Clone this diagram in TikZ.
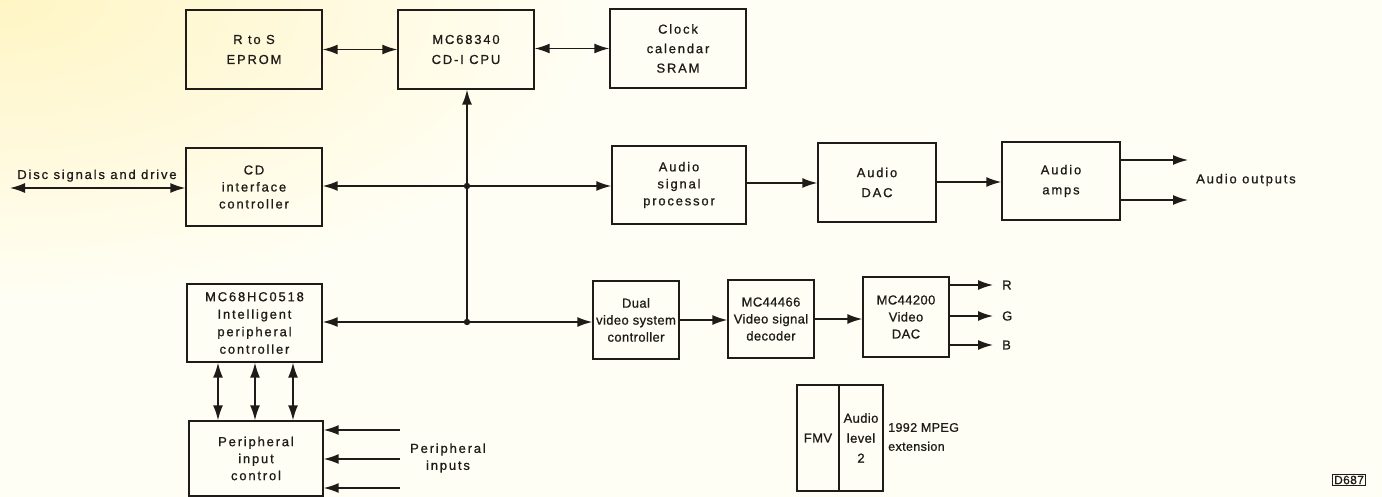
\documentclass[tikz,border=0pt]{standalone}
\usepackage{fontspec}
\setmainfont{Liberation Sans}[LetterSpace=14, FakeBold=0.8]
\newfontfamily\narrowfont{Liberation Sans}[LetterSpace=3, FakeBold=0.8]
\usetikzlibrary{arrows.meta}
\definecolor{bg}{HTML}{FFFEF4}
\definecolor{yel}{HTML}{FFF5C4}
\definecolor{ink}{HTML}{1E1B18}
\begin{document}
\begin{tikzpicture}[x=1pt,y=-1pt,
  box/.style={draw=ink, line width=1.4pt, align=center, inner sep=0pt, text=ink,
    font=\fontsize{13}{17}\selectfont},
  tallbox/.style={box, font=\fontsize{13}{20}\selectfont},
  narrowbox/.style={box, font=\narrowfont\fontsize{13}{17}\selectfont},
  conn/.style={draw=ink, line width=1.5pt},
  arr/.style={conn, -{Latex[length=15pt,width=10pt]}},
  darr/.style={conn, {Latex[length=15pt,width=10pt]}-{Latex[length=15pt,width=10pt]}},
  lbl/.style={font=\fontsize{13}{17}\selectfont, text=ink, inner sep=0pt},
  dot/.style={fill=ink}]
\useasboundingbox (0,0) rectangle (1382,497);
\begin{scope}
  \clip (0,0) rectangle (1382,497);
  \fill[bg] (0,0) rectangle (1382,497);
  \shade[inner color=yel, outer color=bg] (-600,-300) rectangle (600,300);
\end{scope}

% top row
\node[tallbox, minimum width=136pt, minimum height=79pt] (eprom) at (254,49.5) {R to S\\EPROM};
\node[tallbox, minimum width=136pt, minimum height=79pt] (cpu) at (466,49.5) {MC68340\\CD-I CPU};
\node[tallbox, minimum width=136pt, minimum height=79pt, font=\fontsize{13}{19.5}\selectfont] (clock) at (678,48.5) {Clock\\calendar\\SRAM};

% second row
\node[box, minimum width=136pt, minimum height=78pt] (cdi) at (254,187) {CD\\interface\\controller};
\node[box, minimum width=134pt, minimum height=78pt] (asp) at (679,185) {Audio\\signal\\processor};
\node[tallbox, minimum width=118pt, minimum height=79pt] (adac) at (877,182.5) {Audio\\DAC};
\node[tallbox, minimum width=118pt, minimum height=78pt] (amps) at (1061,181) {Audio\\amps};

% third row
\node[box, minimum width=135pt, minimum height=78pt, font=\fontsize{13}{17.5}\selectfont] (ipc) at (254.5,323) {MC68HC0518\\Intelligent\\peripheral\\controller};
\node[narrowbox, minimum width=86pt, minimum height=78pt] (dvsc) at (636,320) {Dual\\video system\\controller};
\node[narrowbox, minimum width=86pt, minimum height=78pt] (vsd) at (771,319) {MC44466\\Video signal\\decoder};
\node[narrowbox, minimum width=86pt, minimum height=80pt] (vdac) at (906,317) {MC44200\\Video\\DAC};

% bottom
\node[box, minimum width=134pt, minimum height=75pt] (pic) at (256,458.5) {Peripheral\\input\\control};
\node[narrowbox, minimum width=42pt, minimum height=106pt] (fmv) at (818,438) {FMV};
\node[narrowbox, minimum width=44pt, minimum height=106pt, font=\narrowfont\fontsize{13}{20}\selectfont] (al) at (861,438) {Audio\\level\\2};
\node[lbl, anchor=west, align=left, font=\narrowfont\fontsize{12.5}{19}\selectfont] (mpeg) at (888,437) {1992 MPEG\\extension};
\node[draw=ink, line width=1pt, text=ink, inner sep=1.2pt, font=\narrowfont\fontsize{12}{12}\selectfont] (code) at (1349,480) {D687};

% top row connectors
\draw[darr] (eprom.east) -- (cpu.west);
\draw[darr] (cpu.east |- 0,48.5) -- (clock.west |- 0,48.5);

% bus
\coordinate (j1) at (467,186);
\coordinate (j2) at (467,322);
\draw[conn] (j1) -- (j2);
\draw[arr] (j1) -- (j1 |- cpu.south);
\draw[arr] (j1) -- (cdi.east |- j1);
\draw[arr] (j1) -- (asp.west |- j1);
\draw[arr] (j2) -- (ipc.east |- j2);
\draw[arr] (j2) -- (dvsc.west |- j2);
\fill[dot] (j1) circle (3.2pt);
\fill[dot] (j2) circle (3.2pt);

% disc signals
\coordinate (disc) at (10,188);
\draw[darr] (disc) -- (cdi.west |- disc);
\node[lbl, anchor=base] (disclbl) at (97,179) {Disc signals and drive};

% audio chain
\draw[arr] (asp.east |- 0,183) -- (adac.west |- 0,183);
\draw[arr] (adac.east |- 0,182) -- (amps.west |- 0,182);
\coordinate (o1) at (1188,160);
\coordinate (o2) at (1188,200);
\draw[arr] (amps.east |- o1) -- (o1);
\draw[arr] (amps.east |- o2) -- (o2);
\node[lbl, anchor=west] (aolbl) at (1196,180) {Audio outputs};

% video chain
\draw[arr] (dvsc.east |- 0,320) -- (vsd.west |- 0,320);
\draw[arr] (vsd.east |- 0,319) -- (vdac.west |- 0,319);
\coordinate (r) at (993,285);
\coordinate (g) at (993,316);
\coordinate (b) at (993,345);
\draw[arr] (vdac.east |- r) -- (r);
\draw[arr] (vdac.east |- g) -- (g);
\draw[arr] (vdac.east |- b) -- (b);
\node[lbl, anchor=west] (rl) at (1002,285) {R};
\node[lbl, anchor=west] (gl) at (1002,316) {G};
\node[lbl, anchor=west] (bl) at (1002,345) {B};

% peripheral controller links
\coordinate (v1) at (218,0);
\coordinate (v2) at (255,0);
\coordinate (v3) at (293,0);
\draw[darr] (v1 |- ipc.south) -- (v1 |- pic.north);
\draw[darr] (v2 |- ipc.south) -- (v2 |- pic.north);
\draw[darr] (v3 |- ipc.south) -- (v3 |- pic.north);

% peripheral inputs
\coordinate (p1) at (400,430);
\coordinate (p2) at (400,459);
\coordinate (p3) at (400,488);
\draw[arr] (p1) -- (pic.east |- p1);
\draw[arr] (p2) -- (pic.east |- p2);
\draw[arr] (p3) -- (pic.east |- p3);
\node[lbl, align=center] (pilbl) at (448,458) {Peripheral\\inputs};
\end{tikzpicture}
\end{document}
